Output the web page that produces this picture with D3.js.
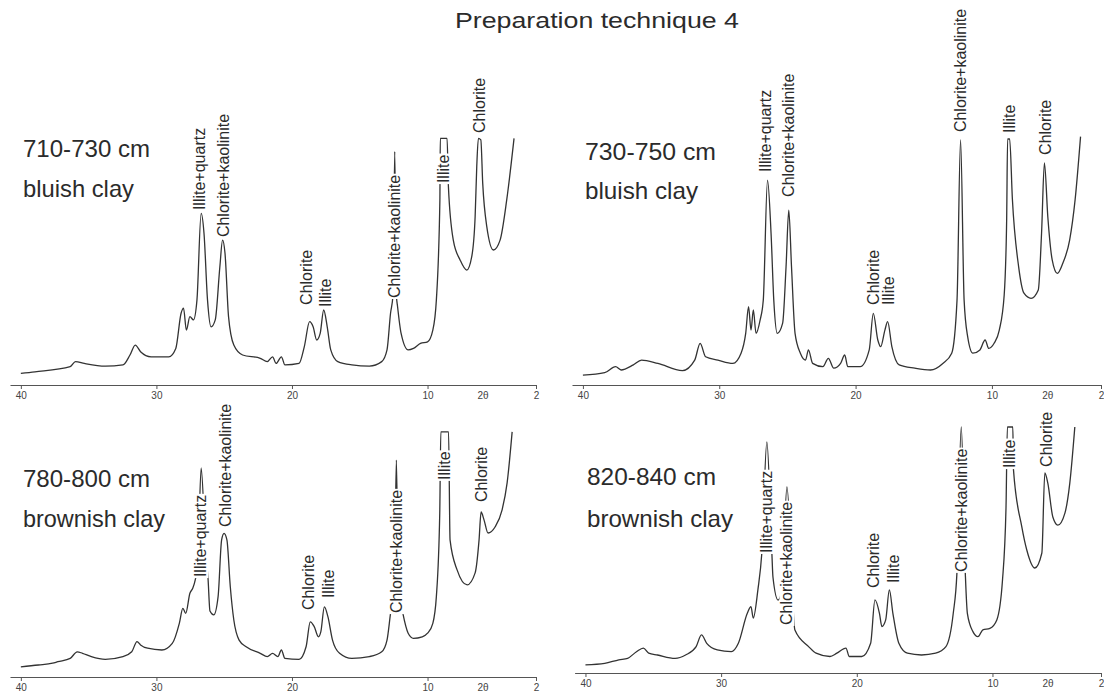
<!DOCTYPE html>
<html><head><meta charset="utf-8">
<script src="https://cdn.jsdelivr.net/npm/d3@7"></script>
<style>body{margin:0;background:#fff}svg{display:block}</style>
</head><body>
<svg id="c" width="1104" height="700"></svg>
<script>
// ---- data: [2theta, relative intensity] ----
const trace710 = [[40.0,3.9],[38.96,4.4],[36.36,6.1],[35.97,7.8],[35.32,7.2],[33.77,6.3],[32.47,6.7],[31.95,10],[31.56,13.3],[31.17,11.1],[30.39,9.4],[29.09,9.4],[28.57,12.2],[28.18,23.9],[28.0,25.6],[27.79,18.3],[27.53,22.8],[27.27,21.7],[27.01,28.3],[26.70,57.2],[26.49,50.6],[26.23,28.3],[25.97,19.4],[25.66,21.7],[25.32,39.4],[25.12,48.3],[24.94,43.9],[24.68,22.8],[24.29,13.3],[23.64,10],[22.34,8.9],[21.82,7.8],[21.43,9.4],[21.17,7.2],[20.78,9.4],[20.52,6.7],[19.48,7.2],[19.09,12.8],[18.70,21.1],[18.44,19.4],[18.18,15],[17.92,17.2],[17.66,25],[17.40,19.4],[17.14,11.7],[16.62,7.8],[15.58,6.7],[14.29,6.3],[13.38,7.8],[12.99,11.7],[12.73,23.9],[12.55,30],[12.42,77.8],[12.30,30],[12.21,26.1],[11.95,17.2],[11.43,11.7],[11.04,12.2],[10.52,13.9],[10.0,14.4],[9.61,18.3],[9.35,28.3],[9.09,61.7],[9.06,82.2],[8.56,82.2],[8.46,66.1],[8.10,48.3],[7.60,41.7],[7.11,38.3],[6.74,42.8],[6.49,56.1],[6.37,72.8],[6.25,82.2],[6.07,81.7],[5.93,67.2],[5.63,52.8],[5.14,45],[4.65,48.3],[4.16,61.7],[3.62,82.2]];
const trace730 = [[40,3.3],[38.4,4.1],[37.6,6.1],[37.2,5],[36.3,6.7],[35.7,8.3],[34.5,7.2],[32.7,4.8],[31.8,8.3],[31.4,13.9],[31.0,9.4],[30.1,8.3],[29.0,7.2],[28.4,10.6],[28.06,17.2],[27.85,26.1],[27.67,18.3],[27.5,25],[27.3,17.2],[27.0,21.7],[26.77,28.3],[26.46,68.3],[26.2,50.6],[26.0,28.3],[25.74,17.2],[25.35,20.6],[25.1,39.4],[24.9,58.3],[24.7,39.4],[24.44,17.2],[24.05,10.6],[23.67,8.3],[23.46,11.7],[23.15,7.2],[22.4,6.1],[22.0,8.9],[21.6,5.6],[21.1,7.2],[20.8,10],[20.57,6.1],[19.66,6.1],[19.0,11.7],[18.7,23.9],[18.37,15],[18.16,12.8],[17.85,18.3],[17.65,21.1],[17.34,12.8],[16.8,6.7],[15.66,5.6],[14.5,5],[13.6,7.2],[12.95,10.6],[12.56,28.3],[12.3,81.7],[12.04,28.3],[11.78,16.1],[11.4,10.6],[10.88,11.7],[10.5,15],[10.23,12.2],[9.84,13.9],[9.46,18.3],[9.1,30],[8.92,55],[8.85,82],[8.7,82],[8.5,62],[8.04,39.4],[7.65,30.6],[7.13,28.9],[6.6,31.7],[6.36,50.6],[6.15,74],[5.9,56],[5.58,41.7],[5.2,37.2],[4.8,40.6],[4.3,48.3],[3.9,61.7],[3.5,82.8]];
const trace780 = [[40,3.4],[38.7,4],[37.66,4.6],[37.27,5.1],[36.36,6.2],[35.84,8.4],[35.45,7.9],[34.8,6.8],[33.77,5.9],[32.47,6.8],[31.82,8.4],[31.43,11.8],[31.17,10.7],[30.65,9.6],[29.6,9],[28.83,11.2],[28.31,17.9],[28.05,22.9],[27.84,21.2],[27.53,27.9],[27.32,29.6],[27.14,32.3],[26.95,38],[26.7,69.7],[26.35,40],[26.2,33.4],[26.05,22],[25.77,20.7],[25.45,26.8],[25.19,45.7],[25.01,47.9],[24.8,45.7],[24.55,30.1],[24.29,19],[23.9,12.3],[23.38,10.1],[22.34,7.9],[21.82,6.8],[21.43,7.9],[21.04,6.8],[20.78,9],[20.52,6.2],[19.48,5.9],[18.96,10.1],[18.65,18.4],[18.36,16.8],[18.05,13.4],[17.87,15.1],[17.61,23.4],[17.35,20.1],[17.01,12.3],[16.49,7.9],[15.58,6.2],[14.29,6.8],[13.38,8.4],[12.99,12.3],[12.73,21.2],[12.45,30],[12.3,72.3],[12.15,30],[11.82,21.2],[11.43,14.6],[11.04,12.9],[10.39,13.4],[10.0,14.6],[9.61,17.9],[9.35,26.8],[9.1,54.6],[9.02,81.7],[8.45,81.7],[8.34,45.7],[7.82,35.7],[7.08,30.7],[6.49,34.7],[6.2,45.7],[6.05,55],[5.83,52.3],[5.54,48],[5.02,50],[4.5,55.7],[4.13,64.7],[3.76,81.7]];
const trace820 = [[40,2.7],[38.58,3.2],[37.54,4.4],[36.89,4.9],[36.24,7.1],[35.73,8.3],[35.34,6.6],[34.69,6.0],[33.39,4.9],[32.62,6.0],[31.84,8.8],[31.45,12.7],[31.06,9.9],[30.28,7.7],[29.25,7.1],[28.73,9.9],[28.07,19.9],[27.8,22.1],[27.63,18.3],[27.29,27.7],[27.0,40],[26.63,77],[26.26,40],[26.18,32],[25.8,24.3],[25.52,27.7],[25.15,62],[24.56,14.3],[23.55,8.8],[23.0,6.6],[21.98,5.5],[21.47,6.6],[20.8,8.3],[20.55,5.5],[19.63,5.5],[18.98,9.9],[18.66,24.4],[18.33,19.9],[18.15,15.5],[17.87,17.7],[17.6,27.7],[17.34,19.9],[16.9,9.9],[16.27,6.6],[15.23,6.0],[14.19,6.6],[13.43,8.8],[12.89,19.9],[12.62,33.3],[12.3,82],[12.0,33],[11.85,19.9],[11.44,13.8],[11.07,12.1],[10.71,14.4],[10.19,14.9],[9.68,17.7],[9.26,31],[9.0,55.5],[8.9,82],[8.5,82],[8.45,67.7],[7.84,48.8],[7.47,41],[6.88,35],[6.36,40],[6.14,66.7],[5.92,63.3],[5.55,52],[5.18,49.3],[4.66,53.3],[4.3,63.3],[3.93,82]];

// peak labels: [text, 2theta, intensity where the label starts]
const labels710 = [["Illite+quartz",26.8,58.3],["Chlorite+kaolinite",25.02,49.3],["Chlorite",18.9,26.7],["Illite",17.5,26],["Chlorite+kaolinite",12.42,29],["Illite",8.83,67.3],["Chlorite",6.18,84]];
const labels730 = [["Illite+quartz",26.6,71],["Chlorite+kaolinite",24.89,62.7],["Chlorite",18.72,26.7],["Illite",17.62,26.7],["Chlorite+kaolinite",12.27,84.3],["Illite",8.72,84],["Chlorite",6.1,76.7]];
const labels780 = [["Illite+quartz",26.72,33.3],["Chlorite+kaolinite",24.94,50],["Chlorite",18.75,22.3],["Illite",17.34,26.3],["Chlorite+kaolinite",12.28,21.3],["Illite",8.75,65.7],["Chlorite",6.05,58.3]];
const labels820 = [["Illite+quartz",26.63,40],["Chlorite+kaolinite",25.15,16],["Chlorite",18.75,28.3],["Illite",17.28,30],["Chlorite+kaolinite",12.26,33.7],["Illite",8.75,68.3],["Chlorite",6.0,68.7]];

const depths = ["710-730 cm","730-750 cm","780-800 cm","820-840 cm"];
const clays = ["bluish clay","bluish clay","brownish clay","brownish clay"];
const tickValues = [40,30,20,10,2];
const thetaTick = [5.9,"2θ"];
const title = "Preparation technique 4";

// ---- layout ----
const panels = [
  {trace:trace710, labels:labels710, xr:[10,536], base:385, dx:23, dy:157, cy:197, dw:127, cw:111},
  {trace:trace730, labels:labels730, xr:[572,1101], base:385, dx:585, dy:160, cy:199, dw:131, cw:113},
  {trace:trace780, labels:labels780, xr:[10,536], base:677, dx:23, dy:487, cy:527, dw:127, cw:142},
  {trace:trace820, labels:labels820, xr:[574.6,1101], base:673, dx:587, dy:485, cy:527, dw:129, cw:146}
];

const svg = d3.select("#c");
const ink = "#2b2b2b";
const font = "'Liberation Sans', Arial, Helvetica, sans-serif";

svg.append("text").attr("x",597).attr("y",28).attr("text-anchor","middle")
  .attr("font-family",font).attr("font-size",22).attr("fill",ink)
  .attr("textLength",284).attr("lengthAdjust","spacingAndGlyphs").text(title);

panels.forEach((p,i)=>{
  const x = d3.scaleLinear().domain([40.8,2]).range(p.xr);
  const y = d3.scaleLinear().domain([0,100]).range([p.base,p.base-300]);
  const g = svg.append("g");

  // axis
  const ax = g.append("g").attr("transform",`translate(0,${p.base})`)
    .call(d3.axisBottom(x).tickValues(tickValues).tickSize(4).tickSizeOuter(0).tickFormat(d3.format("d")));
  ax.select(".domain").attr("stroke","#555").attr("stroke-width",1.2);
  ax.selectAll(".tick line").attr("stroke","#555");
  ax.selectAll(".tick text").attr("font-family",font).attr("font-size",10).attr("fill","#444");
  g.append("text").attr("x",x(thetaTick[0])).attr("y",p.base+7).attr("dy","0.71em")
    .attr("text-anchor","middle").attr("font-family",font).attr("font-size",10).attr("fill","#444").text(thetaTick[1]);

  // trace (pixel x increases along the data order, so monotoneX applies)
  const line = d3.line().x(d=>x(d[0])).y(d=>y(d[1])).curve(d3.curveMonotoneX);
  g.append("path").datum(p.trace).attr("d",line).attr("fill","none")
    .attr("stroke","#333").attr("stroke-width",1.3).attr("stroke-linejoin","round");

  // peak labels
  p.labels.forEach(l=>{
    const lg = g.append("g").attr("transform",`translate(${x(l[1])},${y(l[2])}) rotate(-90)`);
    const t = lg.append("text").attr("x",0).attr("y",0).attr("dominant-baseline","central")
      .attr("font-family",font).attr("font-size",16).attr("fill",ink).text(l[0]);
    const b = t.node().getBBox();
    lg.insert("rect","text").attr("x",b.x-1).attr("y",b.y+1).attr("width",b.width+2).attr("height",b.height-2).attr("fill","#fff");
  });

  // sample text
  g.append("text").attr("x",p.dx).attr("y",p.dy).attr("font-family",font).attr("font-size",24).attr("fill",ink)
    .attr("textLength",p.dw).attr("lengthAdjust","spacingAndGlyphs").text(depths[i]);
  g.append("text").attr("x",p.dx).attr("y",p.cy).attr("font-family",font).attr("font-size",24).attr("fill",ink)
    .attr("textLength",p.cw).attr("lengthAdjust","spacingAndGlyphs").text(clays[i]);
});
</script>
</body></html>
